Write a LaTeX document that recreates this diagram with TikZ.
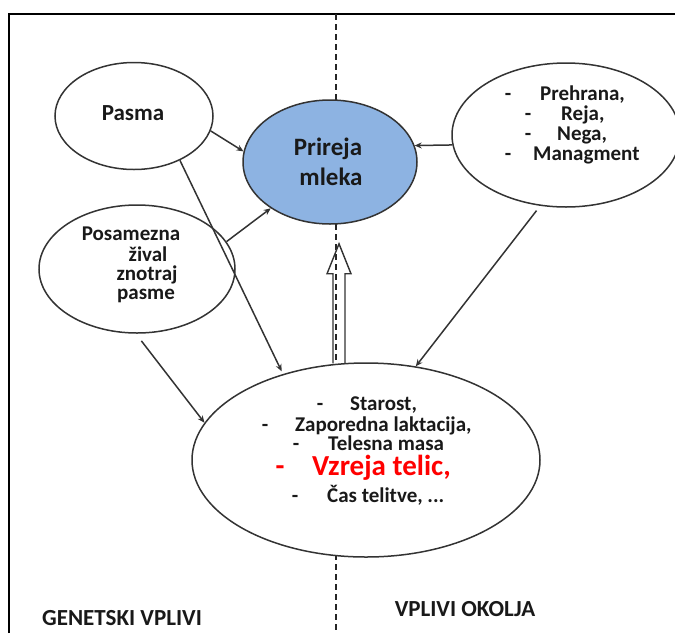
\documentclass[tikz,border=0pt]{standalone}
\usepackage{fontspec}
\setmainfont{Carlito}
\usetikzlibrary{shapes.geometric,arrows.meta,calc}
\definecolor{lineg}{HTML}{333333}
\definecolor{fillb}{HTML}{8DB3E2}
\definecolor{redt}{HTML}{FF0000}
\begin{document}
\begin{tikzpicture}[x=1pt,y=-1pt,
  ell/.style={draw=lineg, line width=1.5pt, ellipse, inner sep=0pt, fill=white},
  arr/.style={draw=lineg, line width=1.5pt, -{Stealth[length=7pt,width=6pt]}},
  txt/.style={font=\bfseries\fontsize{21}{22}\selectfont, inner sep=0pt, text height=0.7em, text depth=0.2em, text=black!90},
  big/.style={font=\bfseries\fontsize{25}{26}\selectfont},
  red/.style={text=redt, font=\bfseries\fontsize{29}{30}\selectfont},
  foot/.style={font=\bfseries\fontsize{23}{24}\selectfont},
  hollow/.style={draw=lineg, line width=1.4pt, line join=miter},
  divider/.style={draw=black!85, line width=1.3pt, dash pattern=on 6pt off 4pt}
]
\useasboundingbox (0,0) rectangle (675,633);
% frame
\coordinate (fbl) at (9,633);
\coordinate (ftl) at (9,14);
\coordinate (ftr) at (675,14);
\draw[line width=1.5pt] (fbl) -- (ftl) -- (ftr);
% divider
\coordinate (dtop) at (336,14);
\coordinate (dbot) at (336,633);
\draw[divider] (dtop) -- (dbot);

% ellipses
\node[ell, minimum width=158pt, minimum height=107pt] (pasma) at (134,116) {};
\node[ell, minimum width=196pt, minimum height=128pt] (posam) at (137,269) {};
\node[ell, minimum width=174pt, minimum height=124pt, fill=fillb] (prireja) at (330,162) {};
\node[ell, minimum width=228pt, minimum height=144pt] (okolje) at (566,135) {};
\node[ell, minimum width=348pt, minimum height=194pt] (bottom) at (366,460) {};

% texts
\node[txt, font=\bfseries\fontsize{23}{24}\selectfont] (tpasma) at (133,118) {Pasma};
\node[txt, big] (tpr1) at (328,153) {Prireja};
\node[txt, big] (tpr2) at (331,183) {mleka};

\node[txt] (tpo1) at (131,238) {Posamezna};
\node[txt] (tpo2) at (148,259) {žival};
\node[txt] (tpo3) at (147,278) {znotraj};
\node[txt] (tpo4) at (146,297) {pasme};

\node[txt] (dr1) at (508,98) {-};
\node[txt, anchor=west] (tr1) at (540,98) {Prehrana,};
\node[txt] (dr2) at (528,118) {-};
\node[txt, anchor=west] (tr2) at (561,118) {Reja,};
\node[txt] (dr3) at (528,138) {-};
\node[txt, anchor=west] (tr3) at (557,138) {Nega,};
\node[txt] (dr4) at (508,158) {-};
\node[txt, anchor=west] (tr4) at (533,158) {Managment};

\node[txt] (db1) at (320,408) {-};
\node[txt, anchor=west] (tb1) at (350,408) {Starost,};
\node[txt] (db2) at (265,429) {-};
\node[txt, anchor=west] (tb2) at (295,429) {Zaporedna laktacija,};
\node[txt] (db3) at (296,448) {-};
\node[txt, anchor=west] (tb3) at (328,448) {Telesna masa};
\node[txt, red] (db4) at (280,473) {-};
\node[txt, red, anchor=west] (tb4) at (312,473) {Vzreja telic,};
\node[txt] (db5) at (295,500) {-};
\node[txt, anchor=west] (tb5) at (327,500) {Čas telitve, ...};

\node[txt, foot] (gen) at (122,623) {GENETSKI VPLIVI};
\node[txt, foot] (okl) at (465,614) {VPLIVI OKOLJA};

% connectors
\draw[arr] (pasma.-11) -- (prireja.173);
\draw[arr] (posam.17) -- (prireja.218);
\draw[arr] (okolje.185) -- (prireja.11);
\draw[arr, shorten >=3pt] (pasma.-44) -- (bottom.134);
\draw[arr, shorten <=9pt] (posam.-91) -- (bottom.167);
\draw[arr, shorten <=6pt] (okolje.250) -- (bottom.62);

% hollow block arrow
\coordinate (hb) at ($(bottom.north)+(-27,1)$);
\coordinate (ht) at ($(prireja.south)+(9,19)$);
\draw[hollow] ($(hb)+(-6,0)$) -- ($(ht)+(-6,30)$) -- ($(ht)+(-12,30)$) -- (ht)
  -- ($(ht)+(12,30)$) -- ($(ht)+(6,30)$) -- ($(hb)+(6,0)$);
\end{tikzpicture}
\end{document}
